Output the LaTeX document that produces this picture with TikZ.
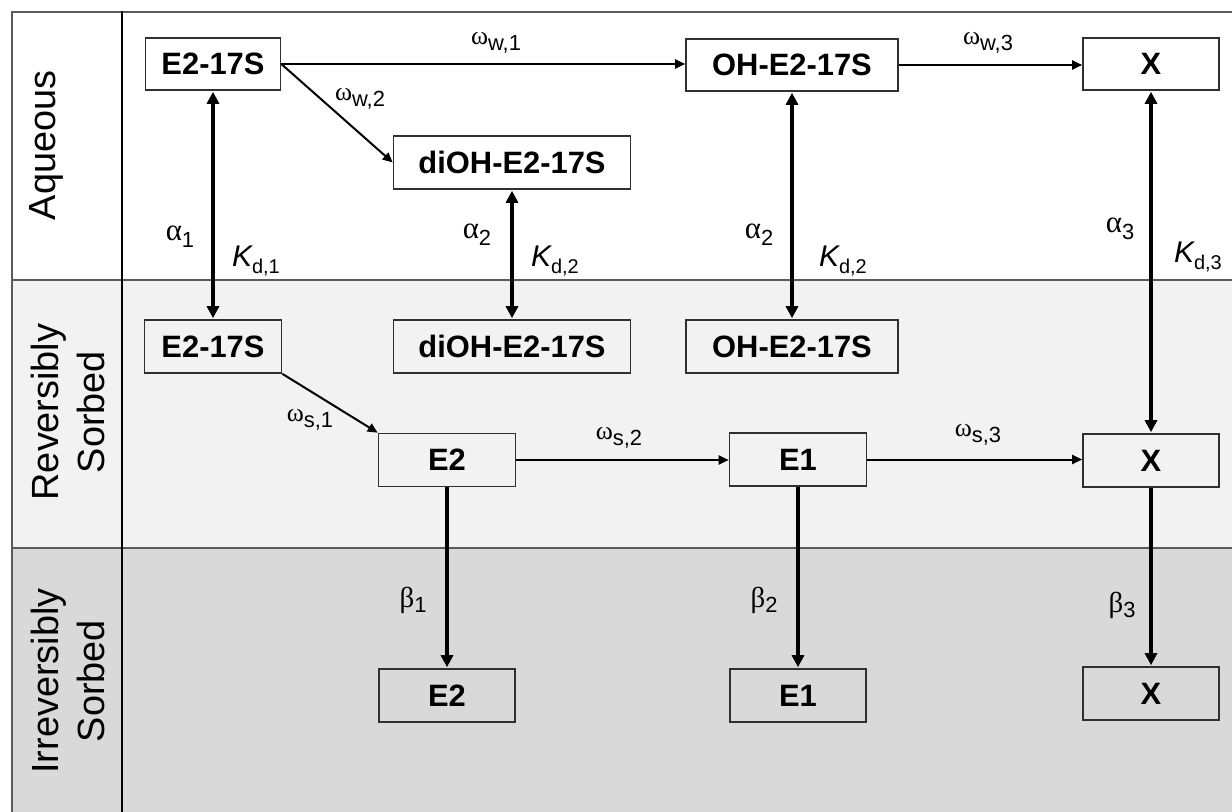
\documentclass[tikz,border=0pt]{standalone}
\usepackage{fontspec}
\setmainfont{Liberation Sans}
\newfontfamily\grk{Liberation Serif}
\usetikzlibrary{arrows.meta}
\definecolor{rowB}{HTML}{F2F2F2}
\definecolor{rowC}{HTML}{D9D9D9}
\definecolor{lineC}{HTML}{5A5A5A}
\definecolor{boxC}{HTML}{303030}
\newcommand{\omlab}[1]{{\fontsize{22}{22}\selectfont{\grk\fontsize{26}{26}\selectfont ω}\raisebox{-0.3em}{#1}}}
\newcommand{\allab}[1]{{\fontsize{27}{27}\selectfont{\grk\fontsize{31}{31}\selectfont α}\raisebox{-0.25em}{\fontsize{22}{22}\selectfont #1}}}
\newcommand{\belab}[1]{{\fontsize{27}{27}\selectfont{\grk\fontsize{29}{29}\selectfont β}\raisebox{-0.2em}{\fontsize{22}{22}\selectfont #1}}}
\newcommand{\kdlab}[1]{{\fontsize{30}{30}\selectfont\itshape K\raisebox{-0.22em}{\fontsize{20}{20}\selectfont\upshape d,#1}}}
\tikzset{
  box/.style={draw=boxC, line width=1.6bp, inner sep=0pt, font=\fontsize{31}{31}\selectfont\bfseries},
  rowlabel/.style={rotate=90, align=center, inner sep=0pt, font=\fontsize{38}{47}\selectfont},
  flow/.style={-{Triangle[length=10bp,width=9bp]}, line width=2bp, black},
  bidir/.style={{Triangle[length=12bp,width=12bp]}-{Triangle[length=12bp,width=12bp]}, line width=3.4bp, black, shorten <=1bp, shorten >=1bp},
  down/.style={-{Triangle[length=12bp,width=12bp]}, line width=3.4bp, black, shorten >=1bp},
  lab/.style={inner sep=0pt}
}
\begin{document}
\begin{tikzpicture}[x=1bp, y=-1bp]
\useasboundingbox (0,0) rectangle (1232,812);
% row backgrounds
\fill[white] (12,12) rectangle (1232,280);
\fill[rowB] (12,280) rectangle (1232,548);
\fill[rowC] (12,548) rectangle (1232,812);
% frame lines
\draw[lineC, line width=2bp] (12,12) -- (1232,12);
\draw[lineC, line width=2bp] (12,280) -- (1232,280);
\draw[lineC, line width=2bp] (12,548) -- (1232,548);
\draw[lineC, line width=2bp] (12,11) -- (12,812);
\draw[black, line width=2.2bp] (122,11) -- (122,812);
% row labels
\node[rowlabel] (L1) at (46,145.5) {Aqueous};
\node[rowlabel] (L2) at (68,412) {Reversibly\\Sorbed};
\node[rowlabel] (L3) at (68,681) {Irreversibly\\Sorbed};
% aqueous boxes
\node[box, minimum width=135bp, minimum height=52bp] (A1) at (213,64) {E2-17S};
\node[box, minimum width=237bp, minimum height=53bp] (A2) at (512,162.5) {diOH-E2-17S};
\node[box, minimum width=212bp, minimum height=52bp] (A3) at (792,65) {OH-E2-17S};
\node[box, minimum width=136bp, minimum height=52bp] (A4) at (1151,64) {X};
% reversibly sorbed boxes
\node[box, minimum width=137bp, minimum height=53bp] (R1) at (213,346.5) {E2-17S};
\node[box, minimum width=237bp, minimum height=53bp] (R2) at (512,346.5) {diOH-E2-17S};
\node[box, minimum width=212bp, minimum height=53bp] (R3) at (792,346.5) {OH-E2-17S};
\node[box, minimum width=137bp, minimum height=53bp] (R4) at (447,460) {E2};
\node[box, minimum width=137bp, minimum height=53bp] (R5) at (798,459.5) {E1};
\node[box, minimum width=136bp, minimum height=53bp] (R6) at (1151,460.5) {X};
% irreversibly sorbed boxes
\node[box, minimum width=136bp, minimum height=53bp] (I1) at (447,695.5) {E2};
\node[box, minimum width=136bp, minimum height=53bp] (I2) at (798,695.5) {E1};
\node[box, minimum width=136bp, minimum height=53bp] (I3) at (1151,693.5) {X};
% aqueous transformations
\draw[flow] (A1.east) -- (A1.east -| A3.west);
\draw[flow] (A3.east) -- (A3.east -| A4.west);
\draw[flow] (A1.east) -- (A2.west);
% sorption equilibria
\draw[bidir] (A1.south) -- (R1.north);
\draw[bidir] (A2.south) -- (R2.north);
\draw[bidir] (A3.south) -- (R3.north);
\draw[bidir] (A4.south) -- (R6.north);
% sorbed transformations
\draw[flow] (R1.south east) -- (R4.north west);
\draw[flow] (R4.east) -- (R4.east -| R5.west);
\draw[flow] (R5.east) -- (R5.east -| R6.west);
% irreversible sorption
\draw[down] (R4.south) -- (I1.north);
\draw[down] (R5.south) -- (I2.north);
\draw[down] (R6.south) -- (I3.north);
% labels
\node[lab] (w1) at (496,43) {\omlab{w,1}};
\node[lab] (w2) at (360,99) {\omlab{w,2}};
\node[lab] (w3) at (988,43) {\omlab{w,3}};
\node[lab] (s1) at (310,420) {\omlab{s,1}};
\node[lab] (s2) at (619,438) {\omlab{s,2}};
\node[lab] (s3) at (978,435) {\omlab{s,3}};
\node[lab] (a1) at (180,237) {\allab{1}};
\node[lab] (a2) at (477,235) {\allab{2}};
\node[lab] (a2b) at (759,235) {\allab{2}};
\node[lab] (a3) at (1120,229) {\allab{3}};
\node[lab] (k1) at (256,261) {\kdlab{1}};
\node[lab] (k2) at (555,261) {\kdlab{2}};
\node[lab] (k2b) at (843,261) {\kdlab{2}};
\node[lab] (k3) at (1198,257) {\kdlab{3}};
\node[lab] (b1) at (413,600) {\belab{1}};
\node[lab] (b2) at (764,600) {\belab{2}};
\node[lab] (b3) at (1122,605) {\belab{3}};
\end{tikzpicture}
\end{document}
